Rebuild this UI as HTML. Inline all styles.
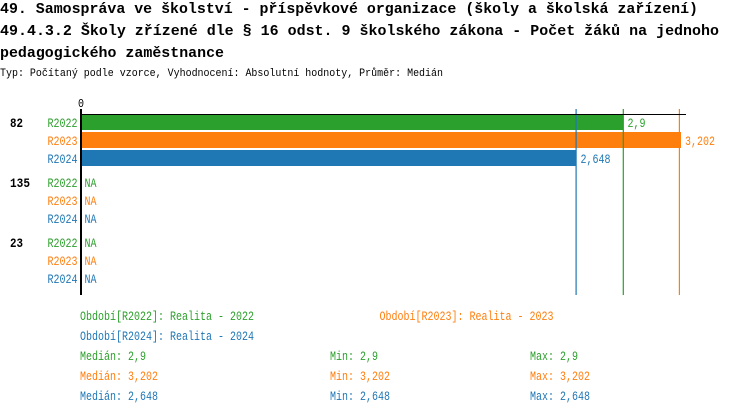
<!DOCTYPE html>
<html><head><meta charset="utf-8"><style>
html,body{margin:0;padding:0;background:#fff;}
svg{display:block;}
text{font-family:"Liberation Mono","DejaVu Sans Mono",monospace;}
</style></head><body>
<svg width="750" height="414" viewBox="0 0 750 414" xmlns="http://www.w3.org/2000/svg">
<g font-size="15" font-weight="bold" fill="#000">
<text x="0" y="13" textLength="698" lengthAdjust="spacingAndGlyphs">49. Samospráva ve školství - příspěvkové organizace (školy a školská zařízení)</text>
<text x="0" y="35" textLength="719" lengthAdjust="spacingAndGlyphs">49.4.3.2 Školy zřízené dle § 16 odst. 9 školského zákona - Počet žáků na jednoho</text>
<text x="0" y="57" textLength="224" lengthAdjust="spacingAndGlyphs">pedagogického zaměstnance</text>
</g>
<text x="0" y="76" font-size="11" textLength="443" lengthAdjust="spacingAndGlyphs" fill="#000">Typ: Počítaný podle vzorce, Vyhodnocení: Absolutní hodnoty, Průměr: Medián</text>

<text x="78" y="107" font-size="12" textLength="6" lengthAdjust="spacingAndGlyphs" fill="#000">0</text>

<!-- bars -->
<rect x="82" y="115" width="541" height="15" fill="#2ca02c"/>
<rect x="82" y="132" width="599" height="16" fill="#ff7f0e"/>
<rect x="82" y="150" width="494" height="16" fill="#1f77b4"/>

<!-- median lines -->
<rect x="575.5" y="109" width="1.2" height="186" fill="#1f77b4"/>
<rect x="622.7" y="109" width="1.2" height="186" fill="#2ca02c"/>
<rect x="678.8" y="109" width="1.2" height="186" fill="#ff7f0e"/>

<!-- axes -->
<rect x="82" y="114" width="604" height="1" fill="#000"/>
<rect x="80" y="109" width="2" height="186" fill="#000"/>

<!-- group labels -->
<g font-size="12.5" font-weight="bold" fill="#000">
<text x="10" y="127" textLength="13" lengthAdjust="spacingAndGlyphs">82</text>
<text x="10" y="187" textLength="20" lengthAdjust="spacingAndGlyphs">135</text>
<text x="10" y="247" textLength="13" lengthAdjust="spacingAndGlyphs">23</text>
</g>
<g font-size="12.5">
<text x="47.5" y="127" fill="#2ca02c" textLength="30" lengthAdjust="spacingAndGlyphs">R2022</text>
<text x="47.5" y="145" fill="#ff7f0e" textLength="30" lengthAdjust="spacingAndGlyphs">R2023</text>
<text x="47.5" y="163" fill="#1f77b4" textLength="30" lengthAdjust="spacingAndGlyphs">R2024</text>
<text x="47.5" y="187" fill="#2ca02c" textLength="30" lengthAdjust="spacingAndGlyphs">R2022</text>
<text x="47.5" y="205" fill="#ff7f0e" textLength="30" lengthAdjust="spacingAndGlyphs">R2023</text>
<text x="47.5" y="223" fill="#1f77b4" textLength="30" lengthAdjust="spacingAndGlyphs">R2024</text>
<text x="47.5" y="247" fill="#2ca02c" textLength="30" lengthAdjust="spacingAndGlyphs">R2022</text>
<text x="47.5" y="265" fill="#ff7f0e" textLength="30" lengthAdjust="spacingAndGlyphs">R2023</text>
<text x="47.5" y="283" fill="#1f77b4" textLength="30" lengthAdjust="spacingAndGlyphs">R2024</text>

<text x="627.5" y="127" fill="#2ca02c" textLength="18" lengthAdjust="spacingAndGlyphs">2,9</text>
<text x="685" y="145" fill="#ff7f0e" textLength="30" lengthAdjust="spacingAndGlyphs">3,202</text>
<text x="580.5" y="163" fill="#1f77b4" textLength="30" lengthAdjust="spacingAndGlyphs">2,648</text>
<text x="84.5" y="187" fill="#2ca02c" textLength="12" lengthAdjust="spacingAndGlyphs">NA</text>
<text x="84.5" y="205" fill="#ff7f0e" textLength="12" lengthAdjust="spacingAndGlyphs">NA</text>
<text x="84.5" y="223" fill="#1f77b4" textLength="12" lengthAdjust="spacingAndGlyphs">NA</text>
<text x="84.5" y="247" fill="#2ca02c" textLength="12" lengthAdjust="spacingAndGlyphs">NA</text>
<text x="84.5" y="265" fill="#ff7f0e" textLength="12" lengthAdjust="spacingAndGlyphs">NA</text>
<text x="84.5" y="283" fill="#1f77b4" textLength="12" lengthAdjust="spacingAndGlyphs">NA</text>

<!-- legend -->
<text x="80" y="320" fill="#2ca02c" textLength="174" lengthAdjust="spacingAndGlyphs">Období[R2022]: Realita - 2022</text>
<text x="379.5" y="320" fill="#ff7f0e" textLength="174" lengthAdjust="spacingAndGlyphs">Období[R2023]: Realita - 2023</text>
<text x="80" y="340" fill="#1f77b4" textLength="174" lengthAdjust="spacingAndGlyphs">Období[R2024]: Realita - 2024</text>

<text x="80" y="360" fill="#2ca02c" textLength="66" lengthAdjust="spacingAndGlyphs">Medián: 2,9</text>
<text x="330" y="360" fill="#2ca02c" textLength="48" lengthAdjust="spacingAndGlyphs">Min: 2,9</text>
<text x="530" y="360" fill="#2ca02c" textLength="48" lengthAdjust="spacingAndGlyphs">Max: 2,9</text>

<text x="80" y="380" fill="#ff7f0e" textLength="78" lengthAdjust="spacingAndGlyphs">Medián: 3,202</text>
<text x="330" y="380" fill="#ff7f0e" textLength="60" lengthAdjust="spacingAndGlyphs">Min: 3,202</text>
<text x="530" y="380" fill="#ff7f0e" textLength="60" lengthAdjust="spacingAndGlyphs">Max: 3,202</text>

<text x="80" y="400" fill="#1f77b4" textLength="78" lengthAdjust="spacingAndGlyphs">Medián: 2,648</text>
<text x="330" y="400" fill="#1f77b4" textLength="60" lengthAdjust="spacingAndGlyphs">Min: 2,648</text>
<text x="530" y="400" fill="#1f77b4" textLength="60" lengthAdjust="spacingAndGlyphs">Max: 2,648</text>
</g>
</svg>
</body></html>
